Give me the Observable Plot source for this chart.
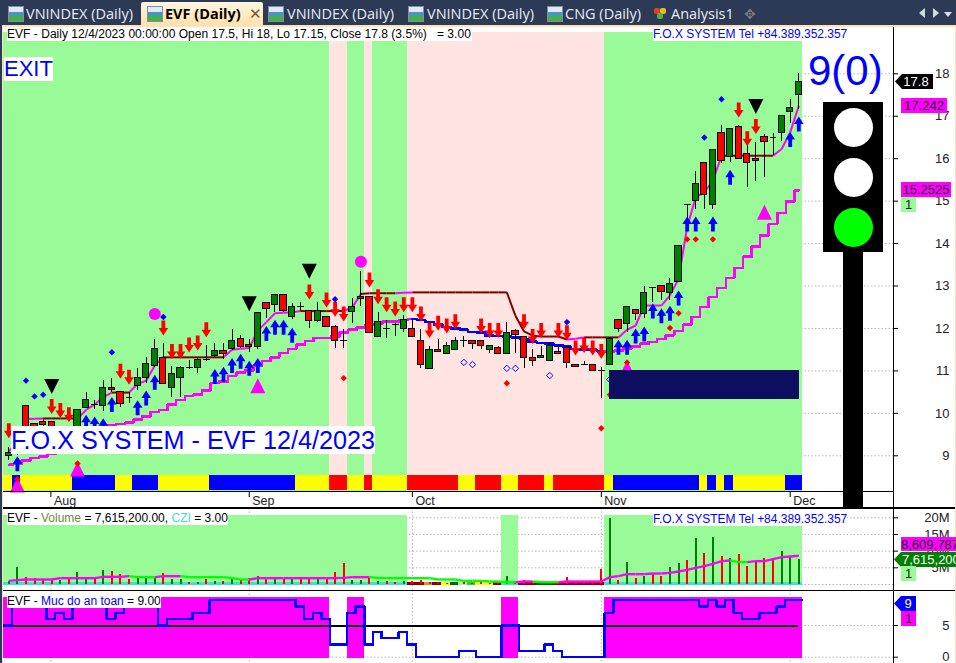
<!DOCTYPE html>
<html><head><meta charset="utf-8">
<script src="https://cdn.jsdelivr.net/npm/d3@7"></script>
<script src="https://cdn.jsdelivr.net/npm/@observablehq/plot@0.6"></script>
<style>
html,body{margin:0;padding:0;background:#fff;overflow:hidden}
#page{position:relative;width:956px;height:663px;overflow:hidden;font-family:"Liberation Sans",Arial,sans-serif;background:#fff}
#page svg{position:absolute;left:0;background:transparent;overflow:visible}
.o{position:absolute;white-space:nowrap}
.lbl{background:#fff;font-size:12px;line-height:14px;color:#000;padding:0}
.tag{font-size:13px;line-height:15px;text-align:center;overflow:hidden}
.tab{position:absolute;top:0;height:25px;line-height:25px;color:#e8ecf2;font:14.5px/27px "Open Sans",sans-serif;white-space:nowrap}
.ic{position:absolute;top:6px;width:14px;height:14px;background:linear-gradient(180deg,#dfeaf8 0 35%,#4a90d8 35% 60%,#45b04a 60%);border:1px solid #88a}
</style></head><body><div id="page"></div>
<script>
// ---------- candles (bar index 0 = first visible bar, 92 = 12/4/2023)
const open  = [8.99,9.1,10.18,9.75,9.8,9.8,9.4,9.55,9.5,10.12,10.21,10.17,10.6,10.5,10.38,10.64,10.84,11.11,11.31,10.6,10.84,11.07,11.07,11.27,11.35,11.46,11.51,11.75,11.61,11.57,12.6,12.56,12.78,12.28,12.52,12.41,12.18,12.27,12.04,11.71,12.39,12.7,12.74,11.79,11.99,12.1,11.98,11.99,11.71,11.04,11.5,11.39,11.5,11.71,11.71,11.71,11.5,11.54,11.39,11.94,11.8,11.31,11.3,11.23,11.45,11.54,11.13,11.14,11.14,11.02,11.14,12.2,12.1,12.44,12.34,12.97,13.0,12.84,13.09,14.91,15.0,15.9,14.91,16.61,16.04,16.75,16.12,16.0,16.51,16.51,16.6,17.1,17.5];
const high  = [9.2,9.6,10.18,9.75,9.85,9.8,9.6,9.6,10.08,10.48,10.3,10.77,10.83,10.51,10.5,11.05,11.32,11.74,11.64,11.1,11.1,11.24,11.32,11.6,11.64,11.64,11.97,11.83,11.73,12.36,12.6,12.81,12.78,12.58,12.62,12.41,12.62,12.29,12.07,11.97,12.7,13.34,12.74,12.38,12.19,12.12,12.3,12.19,11.97,11.57,11.73,11.68,11.78,11.82,11.71,11.71,11.58,11.57,12.14,11.97,11.8,11.5,11.57,11.68,11.56,11.56,11.16,11.21,11.16,11.07,11.78,12.2,12.51,12.44,12.98,12.97,13.0,13.17,13.94,14.91,15.7,15.9,16.21,16.78,16.7,16.78,16.5,16.39,16.58,16.6,17.0,17.39,18.0];
const low   = [8.9,9.0,9.5,9.4,9.6,9.4,9.3,9.3,9.4,10.12,10.1,10.04,10.5,10.14,10.24,10.54,10.71,11.09,10.69,10.38,10.38,11.04,10.95,11.23,11.31,11.28,11.48,11.52,11.44,11.5,12.24,12.38,12.38,12.2,12.4,12.0,12.15,12.03,11.53,11.53,12.12,12.52,11.89,11.79,11.77,11.82,11.91,11.79,11.06,11.04,11.45,11.39,11.5,11.56,11.51,11.51,11.42,11.39,11.39,11.4,11.06,11.11,11.3,11.23,11.39,11.06,11.07,11.13,11.0,10.36,11.13,11.91,11.91,12.19,12.23,12.62,12.66,12.66,13.09,14.6,14.8,14.8,14.8,15.88,15.92,16.0,15.33,15.47,15.56,16.07,16.41,16.82,17.15];
const close = [9.07,9.5,9.6,9.5,9.73,9.5,9.55,9.45,10.08,10.32,10.21,10.6,10.55,10.22,10.38,10.84,11.17,11.52,10.69,10.93,11.07,11.07,11.26,11.27,11.46,11.39,11.7,11.56,11.57,12.36,12.45,12.78,12.41,12.5,12.52,12.18,12.41,12.03,11.71,11.71,12.51,12.74,11.89,12.15,11.99,12.1,12.2,11.79,11.14,11.5,11.45,11.59,11.71,11.71,11.64,11.58,11.58,11.39,11.9,11.85,11.3,11.23,11.35,11.59,11.39,11.18,11.09,11.14,11.0,11.02,11.76,11.98,12.51,12.34,12.84,12.97,12.85,13.05,13.94,14.91,15.41,15.15,16.21,15.95,16.7,16.0,15.9,15.95,16.39,16.51,17.0,17.2,17.8];
// ---------- indicator lines
const fastLine = [9.1,9.35,9.87,9.87,9.88,9.88,9.88,9.88,9.88,10.08,10.21,10.38,10.49,10.49,10.49,10.69,10.77,11.13,11.32,11.32,11.32,11.32,11.32,11.32,11.32,11.32,11.5,11.52,11.54,11.95,12.15,12.36,12.37,12.38,12.41,12.41,12.41,12.41,12.41,12.41,12.5,12.81,12.83,12.83,12.83,12.83,12.84,12.85,12.85,12.85,12.85,12.85,12.85,12.85,12.85,12.85,12.85,12.85,12.85,12.3,11.93,11.83,11.81,11.81,11.81,11.74,11.76,11.79,11.79,11.79,11.79,11.79,11.97,12.07,12.54,12.54,12.54,12.78,13.17,14.39,15.09,15.21,15.48,16.07,16.07,16.07,16.07,16.07,16.07,16.07,16.23,16.62,17.242];
const fastDarkRuns = [[4,8],[12,14],[18,25],[34,39],[41,45],[47,65],[67,71],[83,89]];
const slowLine = [8.79,8.81,8.89,8.95,8.98,9.05,9.15,9.25,9.32,9.42,9.5,9.6,9.71,9.75,9.78,9.85,9.93,10.03,10.08,10.21,10.32,10.41,10.44,10.54,10.71,10.75,10.88,10.96,11.01,11.13,11.23,11.32,11.42,11.52,11.62,11.7,11.78,11.78,11.81,11.9,11.97,12.02,12.08,12.11,12.16,12.17,12.2,12.22,12.2,12.15,12.09,12.04,12.0,11.97,11.92,11.9,11.83,11.82,11.81,11.79,11.75,11.69,11.66,11.64,11.6,11.57,11.52,11.5,11.5,11.46,11.46,11.48,11.53,11.57,11.64,11.68,11.75,11.84,11.94,12.09,12.27,12.5,12.74,12.95,13.19,13.43,13.69,13.93,14.19,14.46,14.72,14.99,15.2525];
const slowBlueFrom = 47, slowBlueTo = 69;
// ---------- signals: [bar, price]
const upArrows = [[1,8.81],[9,9.79],[10,9.75],[11,9.71],[12,10.21],[15,10.13],[16,10.36],[17,10.73],[24,10.87],[25,10.92],[26,11.13],[27,11.23],[28,11.06],[29,11.13],[30,11.88],[31,12.03],[32,12.03],[33,11.84],[71,11.56],[72,11.56],[73,11.82],[74,11.87],[75,12.41],[76,12.3],[77,12.36],[78,12.72],[79,14.46],[80,14.46],[82,14.46],[84,15.56],[91,16.45],[92,16.82]];
const downArrows = [[0,9.59],[5,10.16],[6,10.07],[7,9.97],[13,10.99],[14,10.85],[18,12.01],[19,11.46],[20,11.46],[21,11.61],[22,11.66],[23,11.97],[35,12.86],[37,12.67],[38,12.45],[39,12.34],[42,13.14],[43,12.75],[44,12.56],[45,12.46],[46,12.56],[47,12.56],[48,12.34],[49,11.95],[50,12.12],[51,12.06],[52,12.16],[55,12.06],[56,11.95],[57,11.95],[60,12.16],[61,11.81],[62,11.95],[64,11.95],[65,11.9],[66,11.54],[67,11.6],[68,11.54],[69,11.46],[85,17.15],[86,16.47],[87,16.76]];
const blackTriangles = [[5,10.63],[28,12.58],[35,13.35],[87,17.23]];
const pinkTriangles = [[1,8.31],[8,8.69],[29,10.65],[72,11.07],[88,14.74]];
const pinkCircles = [[17,12.34],[41,13.57]];
const blueDiamonds = [[2,10.77],[3,10.4],[4,10.44],[12,11.44],[18,12.27],[38,12.69],[65,12.15],[81,16.5],[83,17.4]];
const hollowDiamonds = [[53,11.2],[54,11.15],[58,11.06],[59,11.06],[63,10.89],[70,10.8]];
const redDiamonds = [[1,8.45],[8,8.82],[39,10.83],[58,10.71],[69,9.65],[70,10.44],[72,11.2],[77,12.01],[78,12.36],[79,14.1],[80,14.1],[82,14.1]];
// ---------- zones and colour stripe: [first bar, last bar, colour]
const greenBg = "#98fb98", pinkBg = "#ffe4e1";
const mainZones = [[0,37,greenBg],[38,39,pinkBg],[40,41,greenBg],[42,42,pinkBg],[43,46,greenBg],[47,69,pinkBg],[70,92,greenBg]];
const stripe = [[0,0,"#ffff00"],[1,1,"#0000ff"],[2,7,"#ffff00"],[8,12,"#0000ff"],[13,14,"#ffff00"],[15,17,"#0000ff"],[18,23,"#ffff00"],[24,33,"#0000ff"],[34,37,"#ffff00"],[38,39,"#ff0000"],[40,41,"#ffff00"],[42,42,"#ff0000"],[43,46,"#ffff00"],[47,52,"#ff0000"],[53,54,"#ffff00"],[55,57,"#ff0000"],[58,59,"#ffff00"],[60,62,"#ff0000"],[63,63,"#ffff00"],[64,69,"#ff0000"],[70,70,"#ffff00"],[71,80,"#0000ff"],[81,81,"#ffff00"],[82,82,"#0000ff"],[83,83,"#ffff00"],[84,84,"#0000ff"],[85,90,"#ffff00"],[91,92,"#0000ff"]];
const volumeZones = [[0,46],[58,59],[70,92]];
const safetyZones = [[0,37],[40,41],[58,59],[70,92]];
const cziRuns = [[0,46,"#40e0d0"],[47,48,"#8b0000"],[49,49,"#ff7f27"],[50,50,"#8b0000"],[51,51,"#ffff00"],[52,52,"#006400"],[53,53,"#98fb98"],[54,54,"#32cd32"],[55,56,"#ffff00"],[57,57,"#8b0000"],[58,59,"#40e0d0"],[60,61,"#8b0000"],[62,63,"#006400"],[64,69,"#8b0000"],[70,92,"#40e0d0"]];
// ---------- volume (millions)
const volume = [0.9,5.1,2.0,1.7,1.5,1.5,1.3,1.5,3.6,2.1,1.7,4.2,3.9,3.0,1.5,2.3,1.9,1.9,3.3,1.5,1.5,0.6,0.6,1.5,0.8,0.8,1.8,1.1,1.7,2.4,1.5,2.1,1.5,1.5,2.0,1.8,1.5,1.5,3.6,6.3,1.1,1.3,1.9,0.9,0.9,0.5,0.9,0.8,1.2,0.5,0.4,0.4,0.4,0.5,0.4,0.5,0.4,0.5,2.4,0.3,1.2,0.9,0.6,0.5,0.7,2.0,0.9,0.9,1.0,4.5,19.7,1.2,6.5,1.7,2.4,3.2,2.4,5.1,6.2,7.2,13.8,9.3,14.0,8.4,7.7,9.0,5.4,7.0,7.7,7.9,9.9,8.5,7.6152];
const volumeAvg = [1.1,1.3,1.5,1.5,1.5,1.5,1.9,1.9,1.9,1.9,1.9,2.3,2.3,2.3,2.5,2.2,2.2,2.2,2.5,2.5,2.5,2.2,2.2,2.2,2.2,2.2,1.9,1.5,1.5,1.9,1.9,1.9,1.9,1.9,1.9,1.9,1.9,1.9,1.9,2.0,2.2,2.2,2.2,2.0,1.9,1.9,1.9,1.9,1.9,1.9,1.5,1.5,1.5,1.1,1.1,1.1,0.9,0.9,0.7,0.7,0.9,0.9,0.7,0.7,0.7,0.9,0.9,0.9,0.9,0.9,2.2,2.5,3.1,3.1,3.1,3.3,3.3,3.5,3.9,4.4,5.0,5.5,6.2,7.0,7.2,6.7,6.7,7.0,7.0,7.6,8.2,8.4,8.6098];
// ---------- safety level
const safety = [5,9,9,9,9,6,7,6,9,9,9,9,6,7,9,9,9,9,5,6,6,6,7,7,9,9,9,9,9,9,9,9,9,9,8,6,7,6,2,2,7,8,2,4,3,3,4,2,0,0,0,0,0,1,1,0,0,0,5,5,1,1,1,2,1,0,0,0,0,0,7,9,9,9,9,9,9,9,9,9,9,8,9,8,9,7,6,6,7,7,8,9,9];
const safetyLine = 5;
// ---------- axes
const monthTicks = [4.9,28,47,69,91], monthLabels = ["Aug","Sep","Oct","Nov","Dec"];
const priceTicks = [9,10,11,12,13,14,15,16,17,18];
const volumeTicks = [0,5,10,15,20];
const safetyTicks = [0,5];
const lights = ["#ffffff","#ffffff","#00ff00"];

const N = close.length, idx = d3.range(N);
const W = 956, axisM = 63;
const X = {type:"linear",domain:[0,92],range:[8.3,798.3],label:null};
const candles = idx.map(i=>({i,o:open[i],h:high[i],l:low[i],c:close[i],doji:open[i]===close[i]}));
const zoneRect = ([a,b,c])=>({x1:a-0.6,x2:b+0.4,c});
const pts = a=>a.map(([i,p])=>({i,p}));
const arrowUp = {draw(c){c.moveTo(0,-7.5);c.lineTo(4.8,0);c.lineTo(1.9,0);c.lineTo(1.9,7.5);c.lineTo(-1.9,7.5);c.lineTo(-1.9,0);c.lineTo(-4.8,0);c.closePath();}};
const arrowDown = {draw(c){c.moveTo(0,7.5);c.lineTo(4.8,0);c.lineTo(1.9,0);c.lineTo(1.9,-7.5);c.lineTo(-1.9,-7.5);c.lineTo(-1.9,0);c.lineTo(-4.8,0);c.closePath();}};
const triUp = {draw(c){c.moveTo(0,-7.5);c.lineTo(7.5,7.5);c.lineTo(-7.5,7.5);c.closePath();}};
const triDown = {draw(c){c.moveTo(0,7.5);c.lineTo(7.5,-7.5);c.lineTo(-7.5,-7.5);c.closePath();}};
const diamond = {draw(c){c.moveTo(0,-3.2);c.lineTo(3.2,0);c.lineTo(0,3.2);c.lineTo(-3.2,0);c.closePath();}};
const dotted = {stroke:"#b4b4b4",strokeDasharray:"1.5,2",strokeWidth:1};
const darkAt = i=>fastDarkRuns.some(([a,b])=>i>=a&&i<b);
const fastSegs = idx.slice(0,-1).map(i=>({x1:i,x2:i+1,y1:fastLine[i],y2:fastLine[i+1],c:darkAt(i)?"#800000":"#ff00ff"}));
const slowRows = [
  ...idx.filter(i=>i<=slowBlueFrom).map(i=>({i,v:slowLine[i],run:"a"})),
  ...idx.filter(i=>i>=slowBlueFrom&&i<=slowBlueTo).map(i=>({i,v:slowLine[i],run:"b"})),
  ...idx.filter(i=>i>=slowBlueTo).map(i=>({i,v:slowLine[i],run:"c"}))];
const fontFam = '"Liberation Sans",Arial,sans-serif';
const axis = (ticks,fmt)=>Plot.axisY(ticks,{anchor:"right",label:null,tickSize:4,tickPadding:52,textAnchor:"end",tickFormat:fmt,fontSize:13,fill:"#222"});
const monthGrid = Plot.ruleX(monthTicks,{x:d=>d,...dotted});

// ---------- price panel
const stripeTop = 8.535, stripeBottom = 8.18, bandTop = 18.97, bandBottom = 8.157;
const main = Plot.plot({
  width:W,height:508,marginTop:28,marginLeft:3,marginRight:axisM,marginBottom:17,
  style:{fontFamily:fontFam,fontSize:"13px",background:"transparent"},
  x:{...X,axis:null},
  y:{type:"linear",domain:[9,18],range:[455.3,73.3],axis:null,label:null},
  marks:[
    Plot.ruleY(priceTicks,{y:d=>d,...dotted}),
    Plot.rect(mainZones.map(zoneRect),{x1:"x1",x2:"x2",y1:bandBottom,y2:bandTop,fill:"c",shapeRendering:"crispEdges"}),
    Plot.rect(stripe.map(zoneRect),{x1:"x1",x2:"x2",y1:stripeBottom,y2:stripeTop,fill:"c",shapeRendering:"crispEdges"}),
    Plot.line(slowRows,{x:"i",y:"v",z:"run",curve:"step",stroke:d=>d.run==="b"?"#0000ff":"#ff00ff",strokeWidth:2.5,shapeRendering:"crispEdges"}),
    Plot.link(fastSegs,{x1:"x1",x2:"x2",y1:"y1",y2:"y2",stroke:"c",strokeWidth:2}),
    Plot.ruleX(candles,{x:"i",y1:"l",y2:"h",stroke:"#000",strokeWidth:1,shapeRendering:"crispEdges"}),
    Plot.link(candles.filter(d=>d.doji),{x1:d=>d.i-0.4,x2:d=>d.i+0.4,y1:"c",y2:"c",stroke:"#000",strokeWidth:1,shapeRendering:"crispEdges"}),
    Plot.rect(candles.filter(d=>!d.doji),{x1:d=>d.i-0.36,x2:d=>d.i+0.36,y1:"o",y2:"c",fill:d=>d.c>d.o?"#008000":"#ff0000",stroke:"#000",strokeWidth:1,shapeRendering:"crispEdges"}),
    Plot.dot(pts(pinkTriangles),{x:"i",y:"p",symbol:triUp,fill:"#ff00ff",stroke:"none"}),
    Plot.dot(pts(pinkCircles),{x:"i",y:"p",r:6,fill:"#ff00ff",stroke:"none"}),
    Plot.dot(pts(blackTriangles),{x:"i",y:"p",symbol:triDown,fill:"#000",stroke:"none"}),
    Plot.dot(pts(upArrows),{x:"i",y:"p",symbol:arrowUp,fill:"#0000ff",stroke:"none"}),
    Plot.dot(pts(downArrows),{x:"i",y:"p",symbol:arrowDown,fill:"#ff0000",stroke:"none"}),
    Plot.dot(pts(blueDiamonds),{x:"i",y:"p",symbol:diamond,fill:"#0000ff",stroke:"none"}),
    Plot.dot(pts(hollowDiamonds),{x:"i",y:"p",symbol:diamond,fill:"none",stroke:"#0000ff",strokeWidth:1}),
    Plot.dot(pts(redDiamonds),{x:"i",y:"p",symbol:diamond,fill:"#ff0000",stroke:"none"}),
    axis(priceTicks,d=>String(d)),
    Plot.axisX(monthTicks,{anchor:"bottom",label:null,tickSize:6,tickFormat:()=>"",stroke:"#000"}),
    Plot.text(monthTicks,{x:d=>d,text:(d,k)=>monthLabels[k],frameAnchor:"bottom",dy:13,dx:3,textAnchor:"start",fontSize:12.5,fill:"#222"})
  ]
});
main.style.top="0px";

// ---------- volume panel (svg starts at y=508)
const vTop = 508;
let maRising = true;
const volMA = idx.slice(0,-1).map(i=>{
  if (volumeAvg[i+1]>volumeAvg[i]) maRising = true;
  else if (volumeAvg[i+1]<volumeAvg[i]) maRising = false;
  return {x1:i,x2:i+1,y1:volumeAvg[i],y2:volumeAvg[i+1],c:maRising?"#ff00ff":"#00ff00"};
});
const vol = Plot.plot({
  width:W,height:82,marginTop:0,marginLeft:3,marginRight:axisM,marginBottom:0,
  style:{fontFamily:fontFam,fontSize:"13px",background:"transparent"},
  x:{...X,axis:null},
  y:{type:"linear",domain:[0,20],range:[584-vTop,517.3-vTop],axis:null,label:null},
  marks:[
    Plot.ruleY(volumeTicks,{y:d=>d,...dotted}),
    monthGrid,
    Plot.rect(volumeZones.map(([a,b])=>zoneRect([a,b,greenBg])),{x1:"x1",x2:"x2",y1:-0.3,y2:20.7,fill:"c",shapeRendering:"crispEdges"}),
    Plot.rect(cziRuns.map(zoneRect),{x1:"x1",x2:"x2",y1:-0.3,y2:0.6,fill:"c",shapeRendering:"crispEdges"}),
    Plot.ruleX(idx,{x:d=>d,y1:0,y2:d=>volume[d],stroke:d=>close[d]>open[d]?"#008000":"#ff0000",strokeWidth:2,shapeRendering:"crispEdges"}),
    Plot.link(volMA,{x1:"x1",x2:"x2",y1:"y1",y2:"y2",stroke:"c",strokeWidth:2.4}),
    axis(volumeTicks.slice(1),d=>d+"M")
  ]
});
vol.style.top=vTop+"px";

// ---------- safety panel (svg starts at y=590)
const sTop = 590;
const safetyRows = [...idx.map(i=>({x:i-0.6,v:safety[i]})),{x:92.4,v:safety[92]}];
const safe = Plot.plot({
  width:W,height:73,marginTop:0,marginLeft:3,marginRight:axisM,marginBottom:0,
  style:{fontFamily:fontFam,fontSize:"13px",background:"transparent"},
  x:{...X,axis:null},
  y:{type:"linear",domain:[0,5],range:[656.7-sTop,625-sTop],axis:null,label:null},
  marks:[
    Plot.ruleY(safetyTicks,{y:d=>d,...dotted}),
    monthGrid,
    Plot.rect(safetyZones.map(([a,b])=>zoneRect([a,b,"#ff00ff"])),{x1:"x1",x2:"x2",y1:-0.2,y2:9.43,fill:"c",shapeRendering:"crispEdges"}),
    Plot.ruleY([safetyLine],{x1:-0.6,x2:92,y:d=>d,stroke:"#000",strokeWidth:2,shapeRendering:"crispEdges"}),
    Plot.line(safetyRows,{x:"x",y:"v",curve:"step-after",stroke:"#0000ff",strokeWidth:2.5,shapeRendering:"crispEdges"}),
    axis(safetyTicks,d=>String(d))
  ]
});
safe.style.top=sTop+"px";

const page = document.getElementById("page");
page.append(main,vol,safe);

// ---------- window chrome, labels and value tags
const lightHtml = lights.map((c,k)=>`<div class="o" style="left:834px;top:${108+50*k}px;width:39px;height:39px;border-radius:50%;background:${c}"></div>`).join("");
const tabs = [["VNINDEX (Daily)",8,26],["VNINDEX (Daily)",268,287],["VNINDEX (Daily)",408,427],["CNG (Daily)",547,565]];
const tabHtml = tabs.map(([t,a,b])=>`<div class="ic" style="left:${a}px"></div><div class="tab" style="left:${b}px">${t}</div>`).join("");
const arrowClip = "clip-path:polygon(7px 0,100% 0,100% 100%,7px 100%,0 50%)";
page.insertAdjacentHTML("beforeend",`
<div class="o" style="left:0;top:0;width:956px;height:25px;background:#2c3a56"></div>
${tabHtml}
<div class="o" style="left:141px;top:2px;width:122px;height:24px;background:linear-gradient(#fff6e0,#ffe0a8);border-radius:2px 2px 0 0"></div>
<div class="ic" style="left:147px"></div>
<div class="tab" style="left:165px;color:#000;font-weight:700">EVF (Daily)</div>
<div class="tab" style="left:249px;color:#6a5a40">✕</div>
<div class="o" style="left:654px;top:8px;width:6px;height:6px;background:#e0402a;border-radius:2px"></div>
<div class="o" style="left:660px;top:8px;width:6px;height:6px;background:#e8b830;border-radius:2px"></div>
<div class="o" style="left:657px;top:13px;width:6px;height:6px;background:#55b040;border-radius:2px"></div>
<div class="tab" style="left:671px">Analysis1</div>
<div class="tab" style="left:744px;color:#778;font-size:14px">✥</div>
<div class="o" style="left:919px;top:8px;width:0;height:0;border:5px solid transparent;border-right:6px solid #cdd;border-left:0"></div>
<div class="o" style="left:933px;top:8px;width:0;height:0;border:5px solid transparent;border-left:6px solid #cdd;border-right:0"></div>
<div class="o" style="left:944px;top:12px;width:0;height:0;border:4px solid transparent;border-top:5px solid #dde;border-bottom:0"></div>
<div class="o" style="left:0;top:25px;width:956px;height:2px;background:#fde3b4"></div>
<div class="o" style="left:0;top:25px;width:2px;height:638px;background:#2c3a56"></div>
<div class="o" style="left:2px;top:25px;width:1px;height:638px;background:#fde3b4"></div>
<div class="o" style="left:955px;top:25px;width:1px;height:638px;background:#fde3b4"></div>
<div class="o" style="left:893px;top:27px;width:1px;height:636px;background:#000"></div>
<div class="o" style="left:3px;top:491px;width:890px;height:1px;background:#000"></div>
<div class="o" style="left:3px;top:507px;width:952px;height:2px;background:#000"></div>
<div class="o" style="left:3px;top:590px;width:952px;height:1px;background:#000"></div>
<div class="o lbl" style="left:7px;top:27px;padding-right:1px;letter-spacing:.03px">EVF - Daily 12/4/2023 00:00:00 Open 17.5, Hi 18, Lo 17.15, Close 17.8 (3.5%)&nbsp;&nbsp;&nbsp;= 3.00</div>
<div class="o lbl" style="left:653px;top:27px;color:#0000ff;font-size:12px;letter-spacing:-.02px">F.O.X SYSTEM Tel +84.389.352.357</div>
<div class="o lbl" style="left:4px;top:57px;height:24px;font-size:22px;line-height:24px;color:#0000ff">EXIT</div>
<div class="o lbl" style="left:11px;top:426px;height:28px;font-size:25.2px;line-height:28px;color:#0000ff">F.O.X SYSTEM - EVF 12/4/2023</div>
<div class="o" style="left:609px;top:370px;width:190px;height:29px;background:#0e0e60"></div>
<div class="o" style="left:808px;top:45px;font-size:42px;line-height:52px;color:#0000ff">9(0)</div>
<div class="o" style="left:823px;top:102px;width:60px;height:150px;background:#000"></div>
<div class="o" style="left:843px;top:252px;width:20px;height:255px;background:#000"></div>
${lightHtml}
<div class="o lbl" style="left:7px;top:511px"><span>EVF - </span><span style="color:#6e8b3d">Volume</span> = 7,615,200.00, <span style="color:#40e0d0">CZI</span> = 3.00</div>
<div class="o lbl" style="left:653px;top:512px;color:#0000ff;letter-spacing:-.02px">F.O.X SYSTEM Tel +84.389.352.357</div>
<div class="o lbl" style="left:7px;top:594px">EVF - <span style="color:#0000ff">Muc do an toan</span> = 9.00</div>
<div class="o tag" style="left:895px;top:74px;width:38px;height:15px;background:#000;color:#fff;padding-left:4px;box-sizing:border-box;${arrowClip}">17.8</div>
<div class="o tag" style="left:901px;top:98px;width:46px;height:15px;background:#ff00ff;color:#222">17.242</div>
<div class="o tag" style="left:901px;top:182px;width:50px;height:15px;background:#ff00ff;color:#222">15.2525</div>
<div class="o tag" style="left:901px;top:197px;width:15px;height:15px;background:${greenBg};color:#222">1</div>
<div class="o tag" style="left:901px;top:537px;width:55px;height:14px;background:#ff00ff;color:#222;text-align:left">8,609,787</div>
<div class="o tag" style="left:894px;top:552px;width:62px;height:15px;background:#008000;color:#fff;text-align:left;padding-left:8px;box-sizing:border-box;${arrowClip}">7,615,200</div>
<div class="o tag" style="left:901px;top:566px;width:15px;height:15px;background:${greenBg};color:#222">1</div>
<div class="o tag" style="left:894px;top:596px;width:22px;height:15px;background:#0000ff;color:#fff;padding-left:6px;box-sizing:border-box;${arrowClip}">9</div>
<div class="o tag" style="left:901px;top:611px;width:15px;height:15px;background:#ff00ff;color:#222">1</div>
`);
</script></body></html>
